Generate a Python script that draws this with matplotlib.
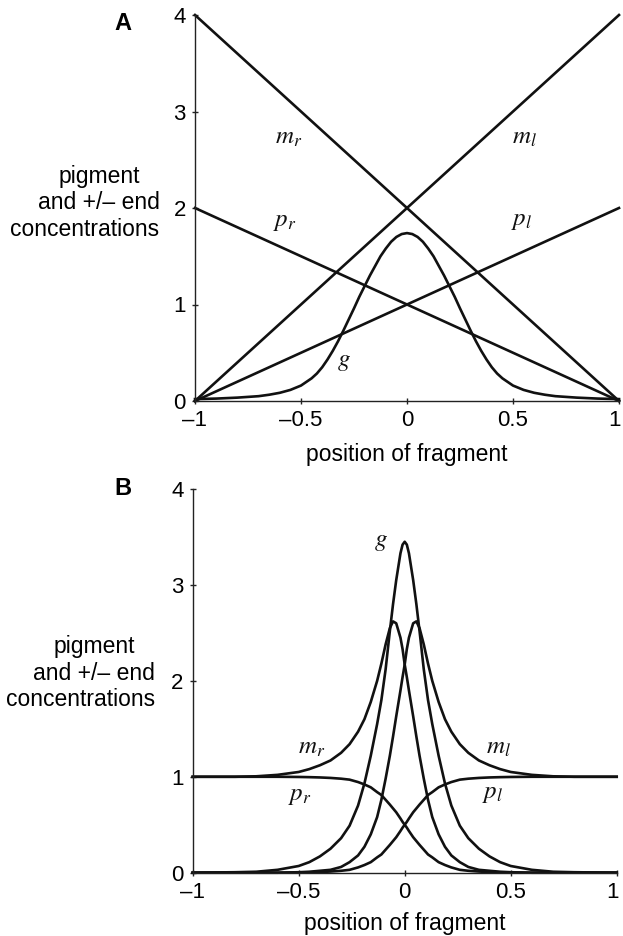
import matplotlib
matplotlib.use("Agg")
import matplotlib.pyplot as plt
import matplotlib.transforms as mtransforms
import numpy as np

plt.rcParams['font.family'] = ['Liberation Sans', 'DejaVu Sans']
plt.rcParams['mathtext.fontset'] = 'stix'

# ---- data ----
# panel A: straight gradients (end points) and the pigment bump g
xa_ends = [-1.0, 1.0]
mr_a = [4.0, 0.0]
ml_a = [0.0, 4.0]
pr_a = [2.0, 0.0]
pl_a = [0.0, 2.0]

xa_g = [-1.0, -0.9, -0.8, -0.7, -0.65, -0.6, -0.55, -0.5, -0.45, -0.425, -0.4, -0.375,
        -0.35, -0.325, -0.3, -0.275, -0.25, -0.225, -0.2, -0.175, -0.15, -0.125,
        -0.1, -0.075, -0.05, -0.025, 0.0, 0.025, 0.05, 0.075, 0.1, 0.125, 0.15,
        0.175, 0.2, 0.225, 0.25, 0.275, 0.3, 0.325, 0.35, 0.375, 0.4, 0.425, 0.45,
        0.5, 0.55, 0.6, 0.65, 0.7, 0.8, 0.9, 1.0]
g_a = [0.02, 0.025, 0.035, 0.05, 0.065, 0.085, 0.115, 0.16, 0.235, 0.285, 0.35, 0.43,
       0.52, 0.62, 0.73, 0.845, 0.96, 1.08, 1.19, 1.30, 1.40, 1.50,
       1.58, 1.65, 1.70, 1.73, 1.74, 1.73, 1.70, 1.65, 1.58, 1.50, 1.40,
       1.30, 1.19, 1.08, 0.96, 0.845, 0.73, 0.62, 0.52, 0.43, 0.35, 0.285, 0.235,
       0.16, 0.115, 0.085, 0.065, 0.05, 0.035, 0.025, 0.02]

# panel B: sharpened profiles
xb = [-1.0, -0.8, -0.7, -0.6, -0.5, -0.45, -0.4, -0.35, -0.3, -0.26, -0.22, -0.19,
      -0.16, -0.13, -0.11, -0.09, -0.07, -0.055, -0.04, -0.02, -0.01, 0.0,
      0.01, 0.02, 0.04, 0.055, 0.07, 0.09, 0.11, 0.13, 0.16, 0.19, 0.22, 0.26,
      0.3, 0.35, 0.4, 0.45, 0.5, 0.6, 0.7, 0.8, 1.0]
g_b = [0.0, 0.005, 0.01, 0.03, 0.07, 0.11, 0.17, 0.25, 0.36, 0.49, 0.70, 0.93,
       1.22, 1.55, 1.80, 2.12, 2.52, 2.80, 3.05, 3.33, 3.42, 3.45,
       3.42, 3.33, 3.05, 2.80, 2.52, 2.12, 1.80, 1.55, 1.22, 0.93, 0.70, 0.49,
       0.36, 0.25, 0.17, 0.11, 0.07, 0.03, 0.01, 0.005, 0.0]
mr_b = [1.0, 1.0, 1.005, 1.02, 1.05, 1.08, 1.12, 1.17, 1.25, 1.34, 1.47, 1.60,
        1.78, 2.00, 2.18, 2.38, 2.55, 2.62, 2.60, 2.45, 2.33, 2.17,
        2.04, 1.90, 1.63, 1.42, 1.22, 0.98, 0.76, 0.58, 0.40, 0.27, 0.18, 0.11,
        0.06, 0.03, 0.02, 0.01, 0.005, 0.0, 0.0, 0.0, 0.0]
ml_b = [0.0, 0.0, 0.0, 0.0, 0.005, 0.01, 0.02, 0.03, 0.06, 0.11, 0.18, 0.27,
        0.40, 0.58, 0.76, 0.98, 1.22, 1.42, 1.63, 1.90, 2.04, 2.17,
        2.33, 2.45, 2.60, 2.62, 2.55, 2.38, 2.18, 2.00, 1.78, 1.60, 1.47, 1.34,
        1.25, 1.17, 1.12, 1.08, 1.05, 1.02, 1.005, 1.0, 1.0]
pr_b = [1.0, 1.0, 1.0, 1.0, 0.998, 0.996, 0.993, 0.988, 0.98, 0.97, 0.945, 0.92,
        0.89, 0.84, 0.81, 0.76, 0.71, 0.67, 0.63, 0.565, 0.53, 0.5,
        0.47, 0.435, 0.37, 0.33, 0.29, 0.24, 0.19, 0.16, 0.11, 0.08, 0.055, 0.03,
        0.02, 0.012, 0.007, 0.004, 0.002, 0.0, 0.0, 0.0, 0.0]
pl_b = [0.0, 0.0, 0.0, 0.0, 0.002, 0.004, 0.007, 0.012, 0.02, 0.03, 0.055, 0.08,
        0.11, 0.16, 0.19, 0.24, 0.29, 0.33, 0.37, 0.435, 0.47, 0.5,
        0.53, 0.565, 0.63, 0.67, 0.71, 0.76, 0.81, 0.84, 0.89, 0.92, 0.945, 0.97,
        0.98, 0.988, 0.993, 0.996, 0.998, 1.0, 1.0, 1.0, 1.0]

xticks = [-1, -0.5, 0, 0.5, 1]
xtick_labels = ['\u20131', '\u20130.5', '0', '0.5', '1']
yticks = [0, 1, 2, 3, 4]

W, H = 623, 936
fig = plt.figure(figsize=(W / 100, H / 100), dpi=100)


def style_axes(ax):
    ax.set_xlim(-1, 1)
    ax.set_ylim(0, 4)
    for s in ['top', 'right']:
        ax.spines[s].set_visible(False)
    for s in ['left', 'bottom']:
        ax.spines[s].set_linewidth(1.0)
        ax.spines[s].set_color('#222222')
    ax.set_xticks(xticks)
    ax.set_xticklabels(xtick_labels)
    ax.set_yticks(yticks)
    ax.tick_params(direction='inout', length=5, width=1.0, labelsize=16,
                   color='#222222')
    ax.tick_params(axis='x', pad=4)
    ax.tick_params(axis='y', pad=4)
    ax.patch.set_alpha(0)
    # keep the rightmost "1" inside the picture
    last = ax.get_xticklabels()[-1]
    last.set_transform(last.get_transform() +
                       mtransforms.ScaledTranslation(-0.04, 0, fig.dpi_scale_trans))


def px_text(x, y, s, **kw):
    fig.text(x / W, 1 - y / H, s, **kw)


lw = 1.9
col = '#111111'

# panel A
axA = fig.add_axes([195 / W, 1 - 401 / H, 424 / W, 386 / H])
style_axes(axA)
for yy in [mr_a, ml_a, pr_a, pl_a]:
    axA.plot(xa_ends, yy, color=col, lw=lw, clip_on=False)
axA.plot(xa_g, g_a, color=col, lw=lw, clip_on=False)

lab = dict(fontsize=18, ha='center', va='center', color='#111111')
axA.text(-0.56, 2.74, r'$m_r$', **lab)
axA.text(0.555, 2.74, r'$m_l$', **lab)
axA.text(-0.577, 1.87, r'$p_r$', **lab)
axA.text(0.541, 1.88, r'$p_l$', **lab)
axA.text(-0.297, 0.41, r'$g$', **lab)

# panel B
axB = fig.add_axes([192.7 / W, 1 - 872.7 / H, 424 / W, 383.7 / H])
style_axes(axB)
for yy in [pr_b, pl_b, mr_b, ml_b, g_b]:
    axB.plot(xb, yy, color=col, lw=lw, clip_on=False)

axB.text(-0.11, 3.46, r'$g$', **lab)
axB.text(-0.44, 1.31, r'$m_r$', **lab)
axB.text(0.44, 1.31, r'$m_l$', **lab)
axB.text(-0.495, 0.81, r'$p_r$', **lab)
axB.text(0.417, 0.83, r'$p_l$', **lab)

# panel letters, y titles, x titles
px_text(123, 23, 'A', fontsize=17, fontweight='bold', ha='center', va='center')
px_text(123, 488, 'B', fontsize=17, fontweight='bold', ha='center', va='center')

fs = 16.5
px_text(99, 182.7, 'pigment', fontsize=fs, ha='center', va='baseline')
px_text(159.5, 209.3, 'and +/\u2013 end', fontsize=fs, ha='right', va='baseline')
px_text(159.5, 236, 'concentrations', fontsize=fs, ha='right', va='baseline')

px_text(94, 652.7, 'pigment', fontsize=fs, ha='center', va='baseline')
px_text(155, 680, 'and +/\u2013 end', fontsize=fs, ha='right', va='baseline')
px_text(155, 706, 'concentrations', fontsize=fs, ha='right', va='baseline')

px_text(407, 461, 'position of fragment', fontsize=fs, ha='center', va='baseline')
px_text(405, 930, 'position of fragment', fontsize=fs, ha='center', va='baseline')

fig.savefig('out.png', dpi=100)
